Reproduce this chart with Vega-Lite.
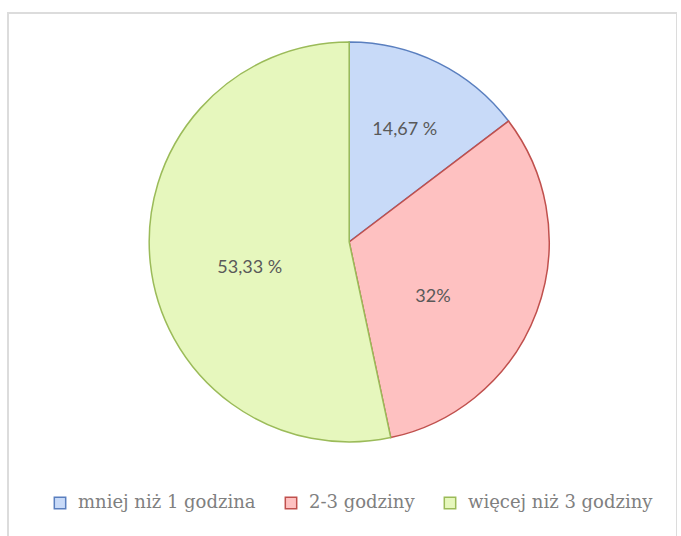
{
  "$schema": "https://vega.github.io/schema/vega-lite/v6.json",
  "width": 669,
  "height": 540,
  "autosize": "none",
  "padding": {"left": 8, "top": 13, "right": 0, "bottom": 0},
  "background": "white",
  "config": {
    "view": {"stroke": null},
    "legend": {
      "orient": "none",
      "legendX": 43,
      "legendY": 481,
      "direction": "horizontal",
      "symbolType": "square",
      "symbolSize": 130,
      "symbolStrokeWidth": 1.5,
      "labelFont": "DejaVu Serif",
      "labelFontSize": 18,
      "labelColor": "#808080",
      "labelOffset": 9,
      "labelLimit": 400,
      "columnPadding": 26
    }
  },
  "data": {
    "values": [
      {"kategoria": "mniej niż 1 godzina", "procent": 14.67, "etykieta": "14,67 %", "kolejnosc": 1},
      {"kategoria": "2-3 godziny", "procent": 32, "etykieta": "32%", "kolejnosc": 2},
      {"kategoria": "więcej niż 3 godziny", "procent": 53.33, "etykieta": "53,33 %", "kolejnosc": 3}
    ]
  },
  "layer": [
    {
      "data": {"values": [{"ramka": 1}]},
      "mark": {"type": "rect", "fill": null, "fillOpacity": 0, "stroke": "#dcdcdc", "strokeWidth": 2},
      "encoding": {}
    },
    {
      "mark": {"type": "arc", "outerRadius": 200, "strokeWidth": 1.5, "x": {"expr": "width*0.51"}, "y": {"expr": "height*0.424"}},
      "encoding": {
        "theta": {"field": "procent", "type": "quantitative", "stack": true},
        "order": {"field": "kolejnosc", "type": "quantitative"},
        "fill": {
          "field": "kategoria", "type": "nominal", "title": null,
          "sort": ["mniej niż 1 godzina", "2-3 godziny", "więcej niż 3 godziny"],
          "scale": {"domain": ["mniej niż 1 godzina", "2-3 godziny", "więcej niż 3 godziny"], "range": ["#c8daf8", "#fec1c1", "#e6f7bd"]}
        },
        "stroke": {
          "field": "kategoria", "type": "nominal", "title": null,
          "sort": ["mniej niż 1 godzina", "2-3 godziny", "więcej niż 3 godziny"],
          "scale": {"domain": ["mniej niż 1 godzina", "2-3 godziny", "więcej niż 3 godziny"], "range": ["#5a7fbf", "#c0504d", "#9bbb59"]}
        }
      }
    },
    {
      "mark": {"type": "text", "radius": 125, "font": "Lato", "fontSize": 18, "color": "#595959", "x": {"expr": "width*0.51"}, "y": {"expr": "height*0.424"}},
      "encoding": {
        "theta": {"field": "procent", "type": "quantitative", "stack": true},
        "order": {"field": "kolejnosc", "type": "quantitative"},
        "text": {"condition": {"test": "datum.kolejnosc == 1", "field": "etykieta"}, "value": ""}
      }
    },
    {
      "mark": {"type": "text", "radius": 100, "dx": -10, "dy": 20, "font": "Lato", "fontSize": 18, "color": "#595959", "x": {"expr": "width*0.51"}, "y": {"expr": "height*0.424"}},
      "encoding": {
        "theta": {"field": "procent", "type": "quantitative", "stack": true},
        "order": {"field": "kolejnosc", "type": "quantitative"},
        "text": {"condition": {"test": "datum.kolejnosc == 2", "field": "etykieta"}, "value": ""}
      }
    },
    {
      "mark": {"type": "text", "radius": 100, "dy": 16, "font": "Lato", "fontSize": 18, "color": "#595959", "x": {"expr": "width*0.51"}, "y": {"expr": "height*0.424"}},
      "encoding": {
        "theta": {"field": "procent", "type": "quantitative", "stack": true},
        "order": {"field": "kolejnosc", "type": "quantitative"},
        "text": {"condition": {"test": "datum.kolejnosc == 3", "field": "etykieta"}, "value": ""}
      }
    }
  ]
}
